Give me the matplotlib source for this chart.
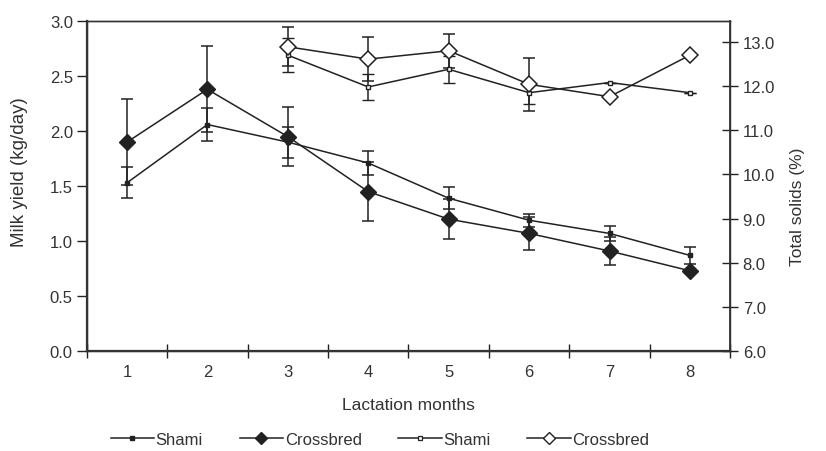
import matplotlib.pyplot as plt
from matplotlib.lines import Line2D
import numpy as np

plt.rcParams['font.family'] = ['Liberation Sans', 'DejaVu Sans']

# Dados: produção de leite (eixo esquerdo) e sólidos totais (eixo direito)
months = [1, 2, 3, 4, 5, 6, 7, 8]
milk_shami = [1.53, 2.06, 1.90, 1.71, 1.39, 1.19, 1.07, 0.87]
milk_shami_err = [0.14, 0.15, 0.14, 0.11, 0.10, 0.06, 0.07, 0.08]
milk_cross = [1.90, 2.38, 1.95, 1.45, 1.20, 1.07, 0.91, 0.73]
milk_cross_err = [0.39, 0.39, 0.27, 0.27, 0.18, 0.15, 0.13, 0.0]

ts_months = [3, 4, 5, 6, 7, 8]
ts_shami = [12.70, 11.98, 12.38, 11.85, 12.08, 11.85]
ts_shami_err = [0.38, 0.30, 0.30, 0.25, 0.0, 0.0]
ts_cross = [12.89, 12.61, 12.80, 12.04, 11.76, 12.70]
ts_cross_err = [0.44, 0.50, 0.38, 0.60, 0.0, 0.0]

fig = plt.figure(figsize=(8.26, 4.52), dpi=100)
ax = fig.add_axes([0.105, 0.221, 0.779, 0.730])
ax2 = ax.twinx()

lw = 1.1
ekw = dict(ecolor='#222222', elinewidth=1.1, capsize=4, capthick=1.1)

ax.errorbar(months, milk_shami, yerr=milk_shami_err, color='#222222', lw=lw,
            marker='s', ms=2.5, mfc='#222222', mec='#222222', **ekw)
ax.errorbar(months, milk_cross, yerr=milk_cross_err, color='#222222', lw=lw,
            marker='D', ms=8, mfc='#222222', mec='#222222', **ekw)
ax2.errorbar(ts_months, ts_shami, yerr=ts_shami_err, color='#222222', lw=lw,
             marker='s', ms=3.5, mfc='white', mec='#222222', mew=1, **ekw)
ax2.errorbar(ts_months, ts_cross, yerr=ts_cross_err, color='#222222', lw=lw,
             marker='D', ms=8, mfc='white', mec='#222222', mew=1.1, **ekw)

ax.set_xlim(0.5, 8.5)
ax.set_ylim(0, 3.0)
ax.set_yticks(np.arange(0, 3.01, 0.5))
ax.set_yticklabels(['%.1f' % v for v in np.arange(0, 3.01, 0.5)])
ax2.set_ylim(6.0, 13.47)
ax2.set_yticks(np.arange(6, 13.01, 1))
ax2.set_yticklabels(['%.1f' % v for v in np.arange(6, 13.01, 1)])

ax.set_xticks(np.arange(0.5, 8.6, 1))
ax.set_xticklabels([])
ax.set_xticks(months, minor=True)
ax.set_xticklabels([str(m) for m in months], minor=True)
ax.tick_params(axis='x', which='major', direction='inout', length=10, width=1, color='#222222')
ax.tick_params(axis='x', which='minor', length=0, pad=9, labelsize=12, labelcolor='#333333')
ax.tick_params(axis='y', direction='out', length=7, width=1, color='#222222',
               labelsize=12, labelcolor='#333333', pad=3)
ax2.tick_params(axis='y', direction='inout', length=12, width=1, color='#222222',
                labelsize=12, labelcolor='#333333', pad=3)

for a in (ax, ax2):
    for s in a.spines.values():
        s.set_color('#333333')
        s.set_linewidth(1.0)
ax.spines['left'].set_linewidth(1.6)
ax.spines['bottom'].set_linewidth(1.6)
ax2.spines['right'].set_linewidth(1.3)

ax.set_xlabel('Lactation months', fontsize=12.5, color='#333333', labelpad=13)
ax.set_ylabel('Milk yield (kg/day)', fontsize=13.5, color='#333333')
ax.yaxis.set_label_coords(-0.092, 0.545)
ax2.set_ylabel('Total solids (%)', fontsize=12.5, color='#333333')
ax2.yaxis.set_label_coords(1.093, 0.44)

# legenda com marcadores menores
handles = [
    Line2D([], [], color='#222222', lw=lw, marker='s', ms=2.5, mfc='#222222', mec='#222222'),
    Line2D([], [], color='#222222', lw=lw, marker='D', ms=6.5, mfc='#222222', mec='#222222'),
    Line2D([], [], color='#222222', lw=lw, marker='s', ms=3, mfc='white', mec='#222222', mew=0.9),
    Line2D([], [], color='#222222', lw=lw, marker='D', ms=6.5, mfc='white', mec='#222222', mew=1),
]
labels = ['Shami', 'Crossbred', 'Shami', 'Crossbred']
fig.legend(handles, labels, loc='lower center', bbox_to_anchor=(0.46, -0.025), ncol=4,
           frameon=False, fontsize=12, handlelength=2.6, handletextpad=0.1,
           columnspacing=2.2, labelcolor='#333333')

fig.savefig('out.png', dpi=100)
